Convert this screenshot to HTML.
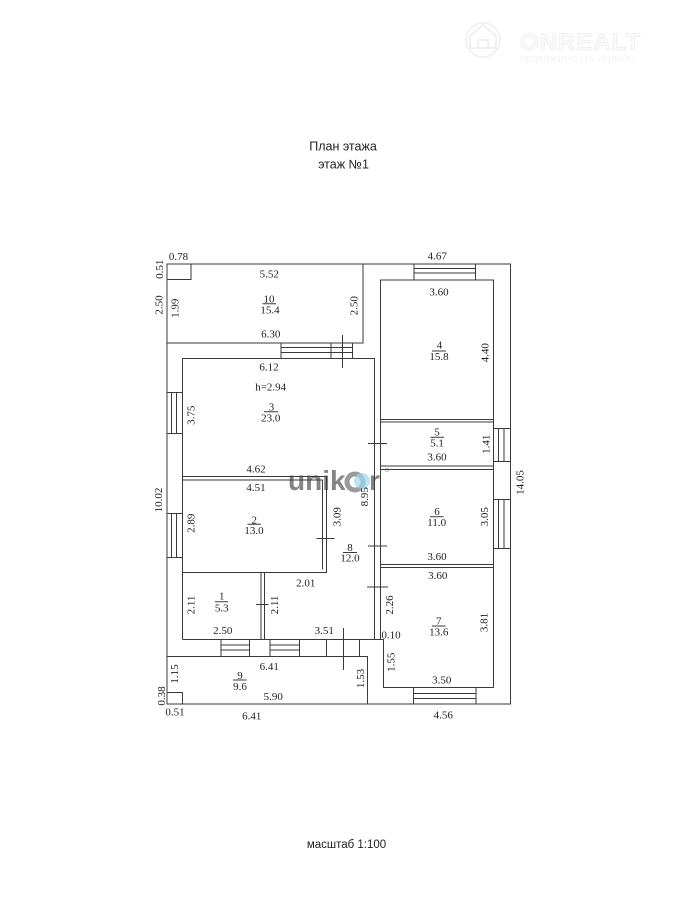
<!DOCTYPE html>
<html>
<head>
<meta charset="utf-8">
<style>
html,body{margin:0;padding:0;background:#fff;}
body{width:678px;height:910px;overflow:hidden;position:relative;}
svg{position:absolute;left:0;top:0;}
</style>
</head>
<body>
<svg width="678" height="910" viewBox="0 0 678 910" xmlns="http://www.w3.org/2000/svg">
<rect x="0" y="0" width="678" height="910" fill="#fff"/>

<!-- faint logo -->
<g opacity="0.9">
  <path d="M470 48 L470 36 L483 25 L496 36 L496 48 Z M478 48 V40 H488 V48" fill="none" stroke="#efefef" stroke-width="2"/>
  <circle cx="483" cy="40" r="17" fill="none" stroke="#f1f1f1" stroke-width="2"/>
  <text x="520" y="50" font-family="Liberation Sans, sans-serif" font-weight="bold" font-size="24" fill="#fafafa" stroke="#ececec" stroke-width="0.8" letter-spacing="1">ONREALT</text>
  <text x="520" y="62" font-family="Liberation Sans, sans-serif" font-size="8" fill="#f0f0f0" letter-spacing="0.5">НЕДВИЖИМОСТЬ ОНЛАЙН</text>
</g>

<!-- title -->
<g font-family="Liberation Sans, sans-serif" fill="#222" text-anchor="middle">
  <text x="343" y="150.5" font-size="12.5">План этажа</text>
  <text x="343.5" y="168.3" font-size="12.5">этаж №1</text>
  <text x="346.5" y="848" font-size="11.5">масштаб 1:100</text>
</g>

<!-- watermark -->
<g>
  <text x="288" y="490" font-family="Liberation Sans, sans-serif" font-weight="bold" font-size="28" fill="#777" opacity="0.9">unik</text>
  <circle cx="355" cy="482" r="8" fill="none" stroke="#8a8a8a" stroke-width="5" opacity="0.85"/>
  <circle cx="362" cy="481" r="8" fill="#9fd8f3" opacity="0.7"/>
  <text x="369" y="490" font-family="Liberation Sans, sans-serif" font-weight="bold" font-size="28" fill="#777" opacity="0.9">r</text>
  <circle cx="387" cy="470" r="1.6" fill="none" stroke="#999" stroke-width="0.6"/>
</g>

<!-- walls -->
<g fill="none" stroke="#3a3a3a" stroke-width="1">
  <path d="M167 264 H510.5 V704 H167 Z"/>
  <path d="M167 343 H363 V264"/>
  <path d="M191 264 V279.5 H167"/>
  <path d="M182.5 639.5 V358.5 H374.5 V639.5"/>
  <path d="M182.5 639.5 H383.5 V687.5 H493.5 V280 H380.5 V639.5"/>
  <path d="M380.5 419.5 H493.5 M380.5 422 H493.5 M380.5 466 H493.5 M380.5 469.5 H493.5 M380.5 564.5 H493.5 M380.5 567.5 H493.5"/>
  <path d="M182.5 476.5 H326.5 V572.5 H182.5 M182.5 480 H322.5 V569.5"/>
  <path d="M261 572.5 V639.5 M264.5 572.5 V639.5"/>
  <path d="M167 656.5 H367.5 V704"/>
  <path d="M167 692.5 H182.5 V704"/>

  <!-- window/door between room 10 and 3 -->
  <path d="M281 343 V358.5 M331 343 V358.5 M352.5 343 V358.5 M281 347.5 H352.5 M281 352.5 H352.5 M342.5 335 V368"/>
  <!-- room 4 top window -->
  <path d="M414 264 V280 M475.5 264 V280 M414 268.5 H475.5 M414 273 H475.5"/>
  <!-- left windows -->
  <path d="M167 392.5 H182.5 M167 433.5 H182.5 M171.5 392.5 V433.5 M176.5 392.5 V433.5"/>
  <path d="M167 513.5 H182.5 M167 557.5 H182.5 M171.5 513.5 V557.5 M176.5 513.5 V557.5"/>
  <!-- right windows -->
  <path d="M493.5 428.5 H510.5 M493.5 461.5 H510.5 M498.5 428.5 V461.5 M504 428.5 V461.5"/>
  <path d="M493.5 499.5 H510.5 M493.5 548.5 H510.5 M498.5 499.5 V548.5 M504 499.5 V548.5"/>
  <!-- room 7 bottom window -->
  <path d="M413.5 687.5 V704 M476 687.5 V704 M413.5 693.5 H476 M413.5 698.5 H476"/>
  <!-- bottom windows -->
  <path d="M221 639.5 V656.5 M249.5 639.5 V656.5 M221 645 H249.5 M221 650 H249.5"/>
  <path d="M270 639.5 V656.5 M299.5 639.5 V656.5 M270 645 H299.5 M270 650 H299.5"/>
  <!-- bottom door -->
  <path d="M326.5 639.5 V656.5 M359.5 639.5 V656.5 M343.5 628 V670"/>
  <!-- door ticks -->
  <path d="M368 443.5 H387 M368 546 H387 M367 587 H388 M316.5 538.5 H334.5 M256 604.5 H268.5"/>
  <!-- fraction lines -->
  <path d="M262.5 303.7 H276 M264 411.7 H278 M247.5 524.3 H261 M343 552.5 H357 M215 601.7 H228 M233 680 H246.5 M432 351 H446 M430.5 437.3 H444 M430 516.7 H443.5 M432 626 H445.5"/>
</g>

<!-- dimension labels -->
<g font-family="Liberation Serif, serif" font-size="11" fill="#222" text-anchor="middle">
  <text x="178.5" y="260">0.78</text>
  <text x="269.3" y="277.7">5.52</text>
  <text x="269" y="302.3">10</text>
  <text x="270" y="313.3">15.4</text>
  <text x="270.7" y="337.3">6.30</text>
  <text x="269" y="370.7">6.12</text>
  <text x="270.7" y="390.7">h=2.94</text>
  <text x="271.5" y="410.7">3</text>
  <text x="270.7" y="421.7">23.0</text>
  <text x="256" y="472.3">4.62</text>
  <text x="256" y="491">4.51</text>
  <text x="254.3" y="523.3">2</text>
  <text x="254" y="534">13.0</text>
  <text x="350" y="551">8</text>
  <text x="350" y="561.7">12.0</text>
  <text x="305.7" y="586.7">2.01</text>
  <text x="221.7" y="599.3">1</text>
  <text x="221.7" y="611.7">5.3</text>
  <text x="222.7" y="634">2.50</text>
  <text x="324.3" y="634">3.51</text>
  <text x="269.3" y="670">6.41</text>
  <text x="240" y="679">9</text>
  <text x="240" y="690">9.6</text>
  <text x="273.3" y="700">5.90</text>
  <text x="175" y="715.7">0.51</text>
  <text x="251.7" y="719.3">6.41</text>
  <text x="437.3" y="259.3">4.67</text>
  <text x="439" y="295.7">3.60</text>
  <text x="439.5" y="348.3">4</text>
  <text x="439" y="360">15.8</text>
  <text x="437" y="435.7">5</text>
  <text x="437" y="446.7">5.1</text>
  <text x="437" y="460.7">3.60</text>
  <text x="437" y="515">6</text>
  <text x="436.7" y="526">11.0</text>
  <text x="437" y="560">3.60</text>
  <text x="437.7" y="579">3.60</text>
  <text x="438.7" y="624.3">7</text>
  <text x="438.7" y="635.7">13.6</text>
  <text x="391" y="638.3">0.10</text>
  <text x="441.7" y="683.3">3.50</text>
  <text x="443.3" y="718.3">4.56</text>

  <!-- vertical labels -->
  <text transform="rotate(-90 159 269.2)" x="159" y="273">0.51</text>
  <text transform="rotate(-90 158.7 305)" x="158.7" y="308.8">2.50</text>
  <text transform="rotate(-90 174.5 308.3)" x="174.5" y="312.1">1.99</text>
  <text transform="rotate(-90 353.7 305.7)" x="353.7" y="309.5">2.50</text>
  <text transform="rotate(-90 190.8 415.3)" x="190.8" y="419.1">3.75</text>
  <text transform="rotate(-90 158.3 500)" x="158.3" y="503.8">10.02</text>
  <text transform="rotate(-90 190.8 523.3)" x="190.8" y="527.1">2.89</text>
  <text transform="rotate(-90 336.7 516.7)" x="336.7" y="520.5">3.09</text>
  <text transform="rotate(-90 364 496.7)" x="364" y="500.5">8.95</text>
  <text transform="rotate(-90 484.5 352.8)" x="484.5" y="356.6">4.40</text>
  <text transform="rotate(-90 485.5 444.2)" x="485.5" y="448">1.41</text>
  <text transform="rotate(-90 519.5 482.5)" x="519.5" y="486.3">14.05</text>
  <text transform="rotate(-90 484 516.7)" x="484" y="520.5">3.05</text>
  <text transform="rotate(-90 389.2 605)" x="389.2" y="608.8">2.26</text>
  <text transform="rotate(-90 483.8 622.5)" x="483.8" y="626.3">3.81</text>
  <text transform="rotate(-90 390.8 662.2)" x="390.8" y="666">1.55</text>
  <text transform="rotate(-90 190.8 605)" x="190.8" y="608.8">2.11</text>
  <text transform="rotate(-90 274 605)" x="274" y="608.8">2.11</text>
  <text transform="rotate(-90 174 674)" x="174" y="677.8">1.15</text>
  <text transform="rotate(-90 360 678.5)" x="360" y="682.3">1.53</text>
  <text transform="rotate(-90 161 696)" x="161" y="699.8">0.38</text>
</g>
</svg>
</body>
</html>
